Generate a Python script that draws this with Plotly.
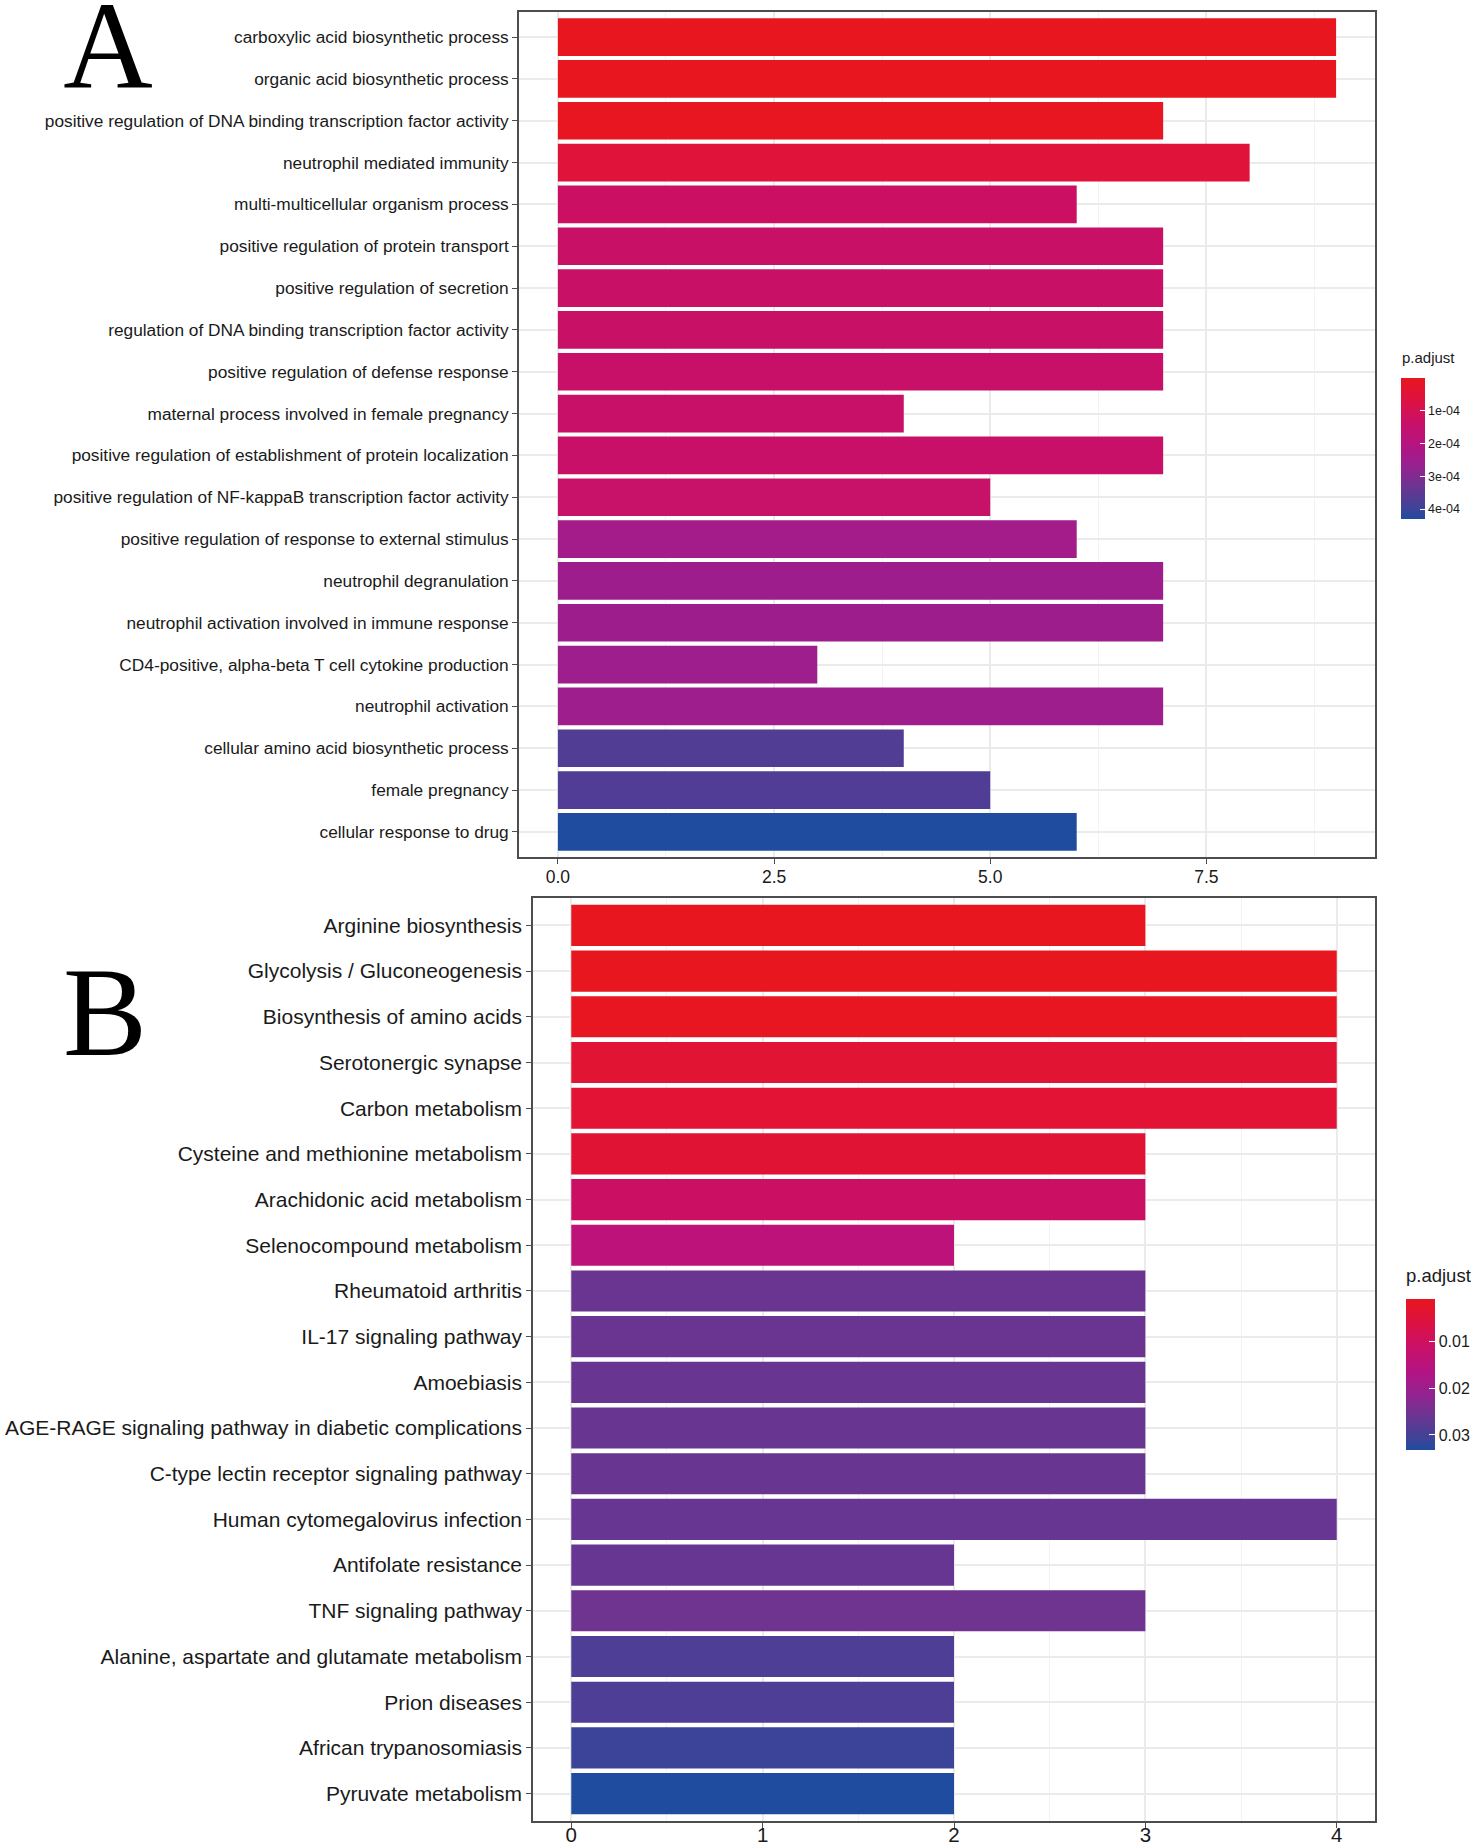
import plotly.graph_objects as go

# ---------------- data ----------------
go_terms = [
    "carboxylic acid biosynthetic process",
    "organic acid biosynthetic process",
    "positive regulation of DNA binding transcription factor activity",
    "neutrophil mediated immunity",
    "multi-multicellular organism process",
    "positive regulation of protein transport",
    "positive regulation of secretion",
    "regulation of DNA binding transcription factor activity",
    "positive regulation of defense response",
    "maternal process involved in female pregnancy",
    "positive regulation of establishment of protein localization",
    "positive regulation of NF-kappaB transcription factor activity",
    "positive regulation of response to external stimulus",
    "neutrophil degranulation",
    "neutrophil activation involved in immune response",
    "CD4-positive, alpha-beta T cell cytokine production",
    "neutrophil activation",
    "cellular amino acid biosynthetic process",
    "female pregnancy",
    "cellular response to drug",
]
go_counts = [9, 9, 7, 8, 6, 7, 7, 7, 7, 4, 7, 5, 6, 7, 7, 3, 7, 4, 5, 6]
go_padj = [0.02e-4, 0.03e-4, 0.06e-4, 0.55e-4, 1.3e-4, 1.38e-4, 1.39e-4, 1.39e-4,
           1.4e-4, 1.4e-4, 1.41e-4, 1.42e-4, 2.4e-4, 2.5e-4, 2.5e-4, 2.52e-4,
           2.53e-4, 3.7e-4, 3.72e-4, 4.3e-4]

kegg_terms = [
    "Arginine biosynthesis",
    "Glycolysis / Gluconeogenesis",
    "Biosynthesis of amino acids",
    "Serotonergic synapse",
    "Carbon metabolism",
    "Cysteine and methionine metabolism",
    "Arachidonic acid metabolism",
    "Selenocompound metabolism",
    "Rheumatoid arthritis",
    "IL-17 signaling pathway",
    "Amoebiasis",
    "AGE-RAGE signaling pathway in diabetic complications",
    "C-type lectin receptor signaling pathway",
    "Human cytomegalovirus infection",
    "Antifolate resistance",
    "TNF signaling pathway",
    "Alanine, aspartate and glutamate metabolism",
    "Prion diseases",
    "African trypanosomiasis",
    "Pyruvate metabolism",
]
kegg_counts = [3, 4, 4, 4, 4, 3, 3, 2, 3, 3, 3, 3, 3, 4, 2, 3, 2, 2, 2, 2]
kegg_padj = [0.0010, 0.0012, 0.0013, 0.0040, 0.0041, 0.0042, 0.0107, 0.0145,
             0.0262, 0.0262, 0.0263, 0.0263, 0.0263, 0.0264, 0.0264, 0.0255,
             0.0290, 0.0291, 0.0310, 0.0332]

go_xticks = [0.0, 2.5, 5.0, 7.5]
go_xticktext = ["0.0", "2.5", "5.0", "7.5"]
kegg_xticks = [0, 1, 2, 3, 4]
go_cbar_ticks = [1e-4, 2e-4, 3e-4, 4e-4]
go_cbar_text = ["1e-04", "2e-04", "3e-04", "4e-04"]
kegg_cbar_ticks = [0.01, 0.02, 0.03]
kegg_cbar_text = ["0.01", "0.02", "0.03"]

# gradient sampled from the reference colour bar, low p.adjust (t=0) -> high (t=1)
GRAD = [
    (0.00, "#E8161E"), (0.15, "#DE1240"), (0.30, "#CB1064"), (0.45, "#B8137E"),
    (0.55, "#A51A8A"), (0.65, "#8E2590"), (0.75, "#723290"), (0.85, "#553C94"),
    (0.93, "#3D4499"), (1.00, "#1F4C9F"),
]
# colour axis runs on -p.adjust so that low p.adjust (red) sits at the top of the bar
cscale = [[1 - t, c] for t, c in GRAD][::-1]

W, H = 1476, 1848
FONT = "Liberation Sans, Arial, sans-serif"
SERIF = "Liberation Serif, Times New Roman, serif"


def px_x(p):
    return p / W


def px_y(p):
    return 1 - p / H


fig = go.Figure()
fig.add_trace(go.Bar(
    x=go_counts, y=go_terms, orientation="h", width=0.9,
    marker=dict(color=[-v for v in go_padj], coloraxis="coloraxis", line=dict(width=0)),
    xaxis="x", yaxis="y", showlegend=False,
))
fig.add_trace(go.Bar(
    x=kegg_counts, y=kegg_terms, orientation="h", width=0.9,
    marker=dict(color=[-v for v in kegg_padj], coloraxis="coloraxis2", line=dict(width=0)),
    xaxis="x2", yaxis="y2", showlegend=False,
))
# panel letters, placed on a full-page pixel overlay
fig.add_trace(go.Scatter(
    x=[108, 105], y=[57, 1023], text=["A", "B"], mode="text",
    textposition="middle center", cliponaxis=False,
    textfont=dict(family=SERIF, size=[124, 126], color="black"),
    xaxis="x3", yaxis="y3", showlegend=False, hoverinfo="skip",
))

frame = dict(showline=True, mirror=True, linecolor="#4D4D4D", linewidth=1.6,
             zeroline=False, ticks="outside", ticklen=5, tickwidth=1.4,
             tickcolor="#4D4D4D", automargin=False)

fig.update_layout(
    width=W, height=H, margin=dict(l=0, r=0, t=0, b=0),
    paper_bgcolor="white", plot_bgcolor="rgba(0,0,0,0)",
    font=dict(family=FONT, color="black"),
    xaxis=dict(domain=[px_x(519), px_x(1375)], anchor="y", range=[-0.45, 9.45],
               tickvals=go_xticks, ticktext=go_xticktext,
               tickfont=dict(size=17.5, color="#1A1A1A"), ticklabelstandoff=-2,
               showgrid=True, gridcolor="#EBEBEB", gridwidth=1.6,
               minor=dict(tickvals=[1.25, 3.75, 6.25, 8.75], showgrid=True,
                          gridcolor="#F3F3F3", gridwidth=1, ticks=""),
               **frame),
    yaxis=dict(domain=[px_y(857), px_y(12)], anchor="x", type="category",
               categoryorder="array", categoryarray=go_terms[::-1],
               range=[-0.6, len(go_terms) - 0.4],
               tickfont=dict(size=17.3, color="#1A1A1A"),
               showgrid=True, gridcolor="#EBEBEB", gridwidth=1.6,
               **frame),
    xaxis2=dict(domain=[px_x(533), px_x(1375)], anchor="y2", range=[-0.2, 4.2],
                tickvals=kegg_xticks, ticktext=[str(v) for v in kegg_xticks],
                tickfont=dict(size=20.5, color="#1A1A1A"), ticklabelstandoff=-10,
                showgrid=True, gridcolor="#EBEBEB", gridwidth=1.6,
                minor=dict(tickvals=[0.5, 1.5, 2.5, 3.5], showgrid=True,
                           gridcolor="#F3F3F3", gridwidth=1, ticks=""),
                **frame),
    yaxis2=dict(domain=[px_y(1821), px_y(898)], anchor="x2", type="category",
                categoryorder="array", categoryarray=kegg_terms[::-1],
                range=[-0.6, len(kegg_terms) - 0.4],
                tickfont=dict(size=21, color="#1A1A1A"),
                showgrid=True, gridcolor="#EBEBEB", gridwidth=1.6,
                **frame),
    xaxis3=dict(domain=[0, 1], anchor="y3", range=[0, W], visible=False, fixedrange=True),
    yaxis3=dict(domain=[0, 1], anchor="x3", range=[H, 0], visible=False, fixedrange=True),
    coloraxis=dict(
        colorscale=cscale, cmin=-max(go_padj), cmax=-min(go_padj),
        colorbar=dict(
            x=px_x(1401), xanchor="left", y=px_y(378), yanchor="top",
            thickness=24, len=141, lenmode="pixels", outlinewidth=0,
            tickvals=[-v for v in go_cbar_ticks], ticktext=go_cbar_text,
            ticks="inside", ticklen=5, tickcolor="white", tickwidth=1.2,
            tickfont=dict(size=12.5, color="#1A1A1A"), xpad=0, ypad=0,
            title=dict(text=""),
        ),
    ),
    coloraxis2=dict(
        colorscale=cscale, cmin=-max(kegg_padj), cmax=-min(kegg_padj),
        colorbar=dict(
            x=px_x(1406), xanchor="left", y=px_y(1299), yanchor="top",
            thickness=29, len=151, lenmode="pixels", outlinewidth=0,
            tickvals=[-v for v in kegg_cbar_ticks], ticktext=kegg_cbar_text,
            ticks="inside", ticklen=6, tickcolor="white", tickwidth=1.2,
            tickfont=dict(size=16, color="#1A1A1A"), xpad=0, ypad=0,
            title=dict(text=""),
        ),
    ),
    annotations=[
        dict(text="p.adjust", x=px_x(1400), y=px_y(368), xref="paper", yref="paper",
             xanchor="left", yanchor="bottom", showarrow=False,
             font=dict(size=15, color="#1A1A1A")),
        dict(text="p.adjust", x=px_x(1404), y=px_y(1288), xref="paper", yref="paper",
             xanchor="left", yanchor="bottom", showarrow=False,
             font=dict(size=18.5, color="#1A1A1A")),
    ],
)

fig.write_html("out.html", config={"displayModeBar": False},
               post_script="document.body.style.margin='0px';")
